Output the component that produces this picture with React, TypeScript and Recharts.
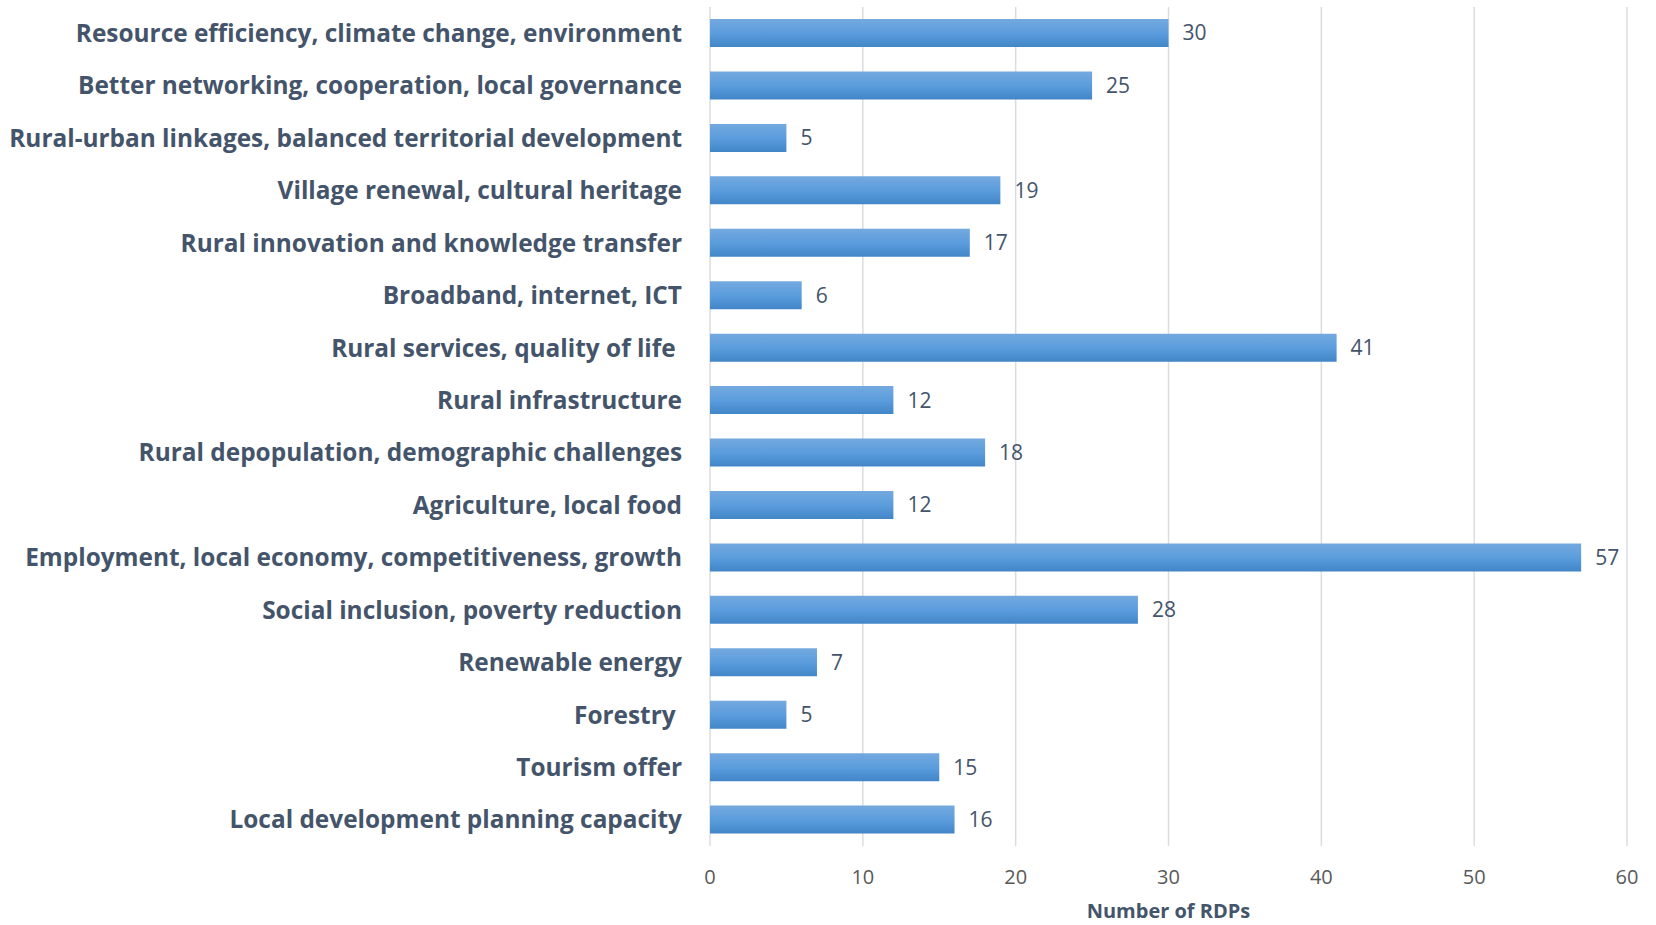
import { BarChart, Bar, XAxis, YAxis, CartesianGrid, LabelList } from 'recharts'

const categories = [
  'Resource efficiency, climate change, environment',
  'Better networking, cooperation, local governance',
  'Rural-urban linkages, balanced territorial development',
  'Village renewal, cultural heritage',
  'Rural innovation and knowledge transfer',
  'Broadband, internet, ICT',
  'Rural services, quality of life\u00a0',
  'Rural infrastructure',
  'Rural depopulation, demographic challenges',
  'Agriculture, local food',
  'Employment, local economy, competitiveness, growth',
  'Social inclusion, poverty reduction',
  'Renewable energy',
  'Forestry\u00a0',
  'Tourism offer',
  'Local development planning capacity',
]
const counts = [30, 25, 5, 19, 17, 6, 41, 12, 18, 12, 57, 28, 7, 5, 15, 16]
const xTicks = [0, 10, 20, 30, 40, 50, 60]

const data = categories.map((name, i) => ({ name, value: counts[i] }))

const textColor = '#44546a'
const font = '"Open Sans", "Noto Sans", sans-serif'

export default function App() {
  return (
    <div style={{ position: 'absolute', left: 0, top: 0, background: '#fff' }}>
      <BarChart
        width={1656}
        height={925}
        data={data}
        layout="vertical"
        margin={{ top: 7, right: 29, bottom: 0, left: 0 }}
        style={{ fontFamily: font }}
      >
        <defs>
          <linearGradient id="barFill" x1="0" y1="0" x2="0" y2="1">
            <stop offset="0%" stopColor="#74a9df" />
            <stop offset="50%" stopColor="#5b9ddd" />
            <stop offset="100%" stopColor="#4286c8" />
          </linearGradient>
        </defs>
        <CartesianGrid horizontal={false} stroke="#d9dde3" strokeWidth={1.5} />
        <XAxis
          type="number"
          domain={[0, 60]}
          ticks={xTicks}
          axisLine={false}
          tickLine={false}
          height={79}
          tick={{ fill: '#595959', fontSize: 20 }}
          tickMargin={18}
          label={{
            value: 'Number of RDPs',
            position: 'insideBottom',
            offset: 7,
            fill: textColor,
            fontSize: 20,
            fontWeight: 700,
          }}
        />
        <YAxis
          type="category"
          dataKey="name"
          width={710}
          axisLine={false}
          tickLine={false}
          interval={0}
          tickMargin={22}
          tick={{ fill: textColor, fontSize: 24.4, fontWeight: 700 }}
        />
        <Bar dataKey="value" barSize={28} fill="url(#barFill)" isAnimationActive={false}>
          <LabelList
            dataKey="value"
            position="right"
            offset={14}
            fill="#44546a"
            fontSize={21}
          />
        </Bar>
      </BarChart>
    </div>
  )
}
